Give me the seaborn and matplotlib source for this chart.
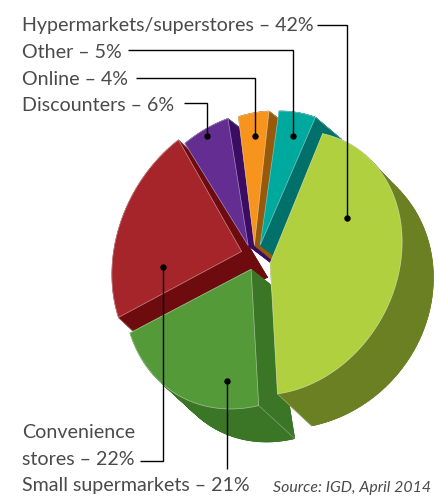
import numpy as np
import matplotlib
matplotlib.use("Agg")
import matplotlib.pyplot as plt
from matplotlib.patches import Polygon
import seaborn as sns

# Grocery channel shares, clockwise from the largest slice
channels = ["Hypermarkets/superstores", "Small supermarkets", "Convenience stores",
            "Discounters", "Online", "Other"]
shares = [42, 21, 22, 6, 4, 5]

face_colours = ["#B0D03F", "#549A38", "#A6252B", "#642D91", "#F7941E", "#00A99D"]
side_colours = ["#6B8023", "#3B7526", "#6E0B0E", "#3A0C63", "#99590A", "#00716A"]

# Per-slice layout: rotation (deg), radius scale, rim bulge, extra shift (px)
slice_rotation = [-1.5, -1.5, -2.0, -4.0, -2.0, 0.0]
slice_scale = [1.0, 1.04, 1.06, 1.0, 1.0, 1.0]
slice_bulge = [0.08, 0.0, 0.0, 0.0, 0.0, 0.0]
slice_shift = [(1, 4), (3, -2), (-2, -3), (-4, 1), (-2, 2), (0, 2)]

# Extrusion per slice: offset at apex, offset at rim, shear of the far rim
no_shear = [[0, 0], [0, 0]]
extrusion = [((13.2, 28.3), (13.2, 28.3), [[0.150, 0.152], [-0.088, 0.033]]),
             ((19, 15), (36, 33), no_shear),
             ((26, 26), (15, 14), no_shear),
             ((25, 19), (13, 10), no_shear),
             ((22, 18), (14, 11), no_shear),
             ((20, 15), (26, 22), no_shear)]
side_order = [2, 3, 4, 5, 1, 0]
face_order = [2, 3, 4, 5, 1, 0]

sns.set_theme(style="white")
plt.rcParams["font.family"] = ["Lato", "DejaVu Sans"]

fig = plt.figure(figsize=(4.38, 4.98), dpi=100)
ax = fig.add_axes([0, 0, 1, 1])
ax.set_xlim(0, 438)
ax.set_ylim(498, 0)
ax.axis("off")

# Tilted pie: an ellipse rotated away from vertical
centre = np.array([256.0, 258.0])
semi_a, semi_b = 140.0, 116.0
alpha = np.radians(30)
u = np.array([np.sin(alpha), -np.cos(alpha)])
v = np.array([np.cos(alpha), np.sin(alpha)])
explode = 0.11


def ellipse(rel_deg):
    r = np.radians(np.atleast_1d(rel_deg))
    return semi_a * np.cos(r)[:, None] * u + semi_b * np.sin(r)[:, None] * v


edges = -8 + np.concatenate([[0], np.cumsum(shares)]) * 3.6

slices = []
for i in range(len(shares)):
    t = np.linspace(edges[i], edges[i + 1], 80) + slice_rotation[i]
    mid = (edges[i] + edges[i + 1]) / 2
    apex = centre + explode * ellipse(mid)[0] + np.array(slice_shift[i], float)
    swell = 1 + slice_bulge[i] * np.sin(np.linspace(0, np.pi, len(t)))[:, None]
    rim = apex + slice_scale[i] * swell * ellipse(t)
    outline = np.vstack([apex, rim])
    off_a, off_r, shear = extrusion[i]
    off_a, off_r = np.array(off_a, float), np.array(off_r, float)
    frac = np.r_[0.0, np.ones(len(rim))][:, None]
    back = outline + off_a + frac * (off_r - off_a) + (outline - apex) @ np.array(shear, float).T
    slices.append((outline, back))

# Extruded sides first, then the top faces over them
for i in side_order:
    outline, back = slices[i]
    colour = side_colours[i]
    n = len(outline)
    for j in range(n):
        k = (j + 1) % n
        ax.add_patch(Polygon([outline[j], outline[k], back[k], back[j]], closed=True,
                             fc=colour, ec=colour, lw=0.4, zorder=2))
    ax.add_patch(Polygon(back, closed=True, fc=colour, ec=colour, lw=0.4, zorder=2))
    for corner in (1, n - 1):
        ax.plot([outline[corner, 0], back[corner, 0]], [outline[corner, 1], back[corner, 1]],
                color="white", alpha=0.35, lw=0.5, zorder=2)

for i in face_order:
    outline, _ = slices[i]
    ax.add_patch(Polygon(outline, closed=True, fc=face_colours[i],
                         ec="#ffffff80", lw=0.5, zorder=3))

# Leader lines with their end dots
leaders = [([317, 347, 347], [24.5, 24.5, 218]),
           ([128, 292.5, 292.5], [49.5, 49.5, 136]),
           ([136, 254.5, 254.5], [78, 78, 136]),
           ([184, 207, 207], [103, 103, 136]),
           ([140, 163, 163], [461, 461, 267]),
           ([227, 227], [469, 381])]
for xs, ys in leaders:
    ax.plot(xs, ys, color="black", lw=1.0, zorder=4, solid_joinstyle="miter",
            solid_capstyle="butt")
    ax.plot(xs[-1], ys[-1], "o", color="black", ms=4.6, mew=0, zorder=5)

# Label lines
text_colour = "#4a4a4a"
label_size = 14.1
labels = [(22, 31, "Hypermarkets/superstores \u2013 42%"),
          (22, 58, "Other \u2013 5%"),
          (22, 85, "Online \u2013 4%"),
          (22, 111, "Discounters \u2013 6%"),
          (22, 438, "Convenience"),
          (22, 465, "stores \u2013 22%"),
          (22, 491, "Small supermarkets \u2013 21%")]
for x, y, s in labels:
    ax.text(x, y, s, fontsize=label_size, color=text_colour, fontweight="normal",
            va="baseline", ha="left", zorder=6)
ax.text(273, 492, "Source: IGD, April 2014", fontsize=11.4, style="italic",
        color=text_colour, fontweight="normal", va="baseline", ha="left", zorder=6)

fig.savefig("out.png", dpi=100, facecolor="white")
